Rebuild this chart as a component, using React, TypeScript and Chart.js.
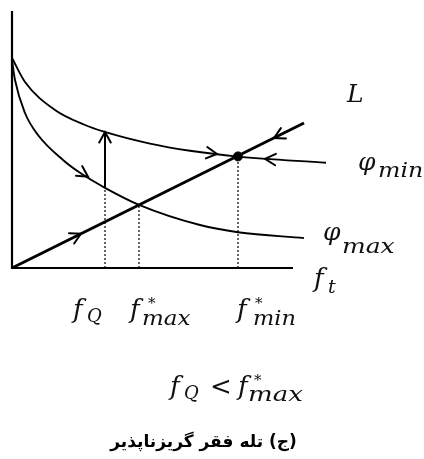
import { useEffect, useRef } from "react";
import { Chart, registerables } from "chart.js";

Chart.register(...registerables);

// Horizontal axis: f_t ; vertical axis: value of the curves
const axisTopV = 257;
const axisEndF = 281;

// φ_min curve (upper)
const phiMinF = [0, 13, 43, 73, 91, 138, 178, 226, 314];
const phiMinV = [210, 186, 158, 143, 136.6, 124.4, 117.2, 111.4, 105.2];

// φ_max curve (lower)
const phiMaxF = [0, 3, 13, 26, 51, 68, 93, 127, 188, 226, 292];
const phiMaxV = [208, 188, 155, 133, 108, 95.2, 80.2, 63.2, 43, 35.8, 29.9];

// Line L through the origin
const lineLF = [0, 292];
const lineLV = [0, 145];

// Marked points on the f_t axis
const fQ = 93;
const fMaxStar = 127;
const fMinStar = 226;
const fQOnPhiMax = 80.2;
const fQOnPhiMin = 136;
const eqMaxV = 63.2;
const eqMinV = 111.6;

// Arrowheads: position and direction (in data units)
const arrowF = [76, 69, 205, 253, 262, 93];
const arrowV = [91.3, 34.3, 114, 109.2, 130, 136];
const arrowDF = [17, 1, 21, -1, -1, 0];
const arrowDV = [-11, 0.4966, -2.6, 0.07, -0.4966, 1];

const BLACK = "#000000";
const MATH = '"DejaVu Serif", "Liberation Serif", serif';

type P = { x: number; y: number };
const pts = (xs: number[], ys: number[]): P[] => xs.map((x, i) => ({ x, y: ys[i] }));

function lineSet(data: P[], width: number, extra: Record<string, unknown> = {}) {
  return {
    data,
    showLine: true,
    borderColor: BLACK,
    borderWidth: width,
    pointRadius: 0,
    fill: false,
    clip: false,
    ...extra,
  };
}

// Draws italic text with a horizontal stretch
function italic(
  ctx: CanvasRenderingContext2D,
  text: string,
  x: number,
  y: number,
  size: number,
  sx = 1
) {
  ctx.save();
  ctx.font = `italic ${size}px ${MATH}`;
  ctx.translate(x, y);
  ctx.scale(sx, 1);
  ctx.fillText(text, 0, 0);
  ctx.restore();
}

type Label = {
  base: string;
  x: number;
  y: number;
  size: number;
  sub?: string;
  subSize?: number;
  subX?: number;
  subY?: number;
  subSx?: number;
  star?: boolean;
  starX?: number;
};

function mathLabel(ctx: CanvasRenderingContext2D, l: Label) {
  italic(ctx, l.base, l.x, l.y, l.size);
  if (l.star) {
    ctx.save();
    ctx.font = `15px ${MATH}`;
    ctx.fillText("*", l.x + (l.starX ?? 17), l.y - 10);
    ctx.restore();
  }
  if (l.sub) {
    italic(ctx, l.sub, l.x + (l.subX ?? 14), l.y + (l.subY ?? 6), l.subSize ?? 18, l.subSx ?? 1);
  }
}

const decor = {
  id: "decor",
  afterDatasetsDraw(chart: Chart) {
    const { ctx } = chart;
    const xs = chart.scales.x;
    const ys = chart.scales.y;
    const X = (v: number) => xs.getPixelForValue(v);
    const Y = (v: number) => ys.getPixelForValue(v);

    // open chevron arrowheads
    ctx.save();
    ctx.strokeStyle = BLACK;
    ctx.lineWidth = 2;
    ctx.lineCap = "round";
    for (let i = 0; i < arrowF.length; i++) {
      const tx = X(arrowF[i]);
      const ty = Y(arrowV[i]);
      const dx = X(arrowF[i] + arrowDF[i]) - tx;
      const dy = Y(arrowV[i] + arrowDV[i]) - ty;
      const a = Math.atan2(dy, dx);
      const len = 12;
      const spread = 0.5;
      ctx.beginPath();
      ctx.moveTo(tx - len * Math.cos(a - spread), ty - len * Math.sin(a - spread));
      ctx.lineTo(tx, ty);
      ctx.lineTo(tx - len * Math.cos(a + spread), ty - len * Math.sin(a + spread));
      ctx.stroke();
    }
    ctx.restore();

    // labels
    ctx.save();
    ctx.fillStyle = "#111111";
    ctx.textBaseline = "alphabetic";
    ctx.textAlign = "left";

    italic(ctx, "L", X(335), Y(166), 25);
    mathLabel(ctx, { base: "φ", x: X(346), y: Y(98), size: 25, sub: "min", subSize: 20, subX: 20, subY: 7, subSx: 1.18 });
    mathLabel(ctx, { base: "φ", x: X(311), y: Y(28), size: 25, sub: "max", subSize: 20, subX: 19, subY: 13, subSx: 1.25 });
    mathLabel(ctx, { base: "f", x: X(302), y: Y(-19), size: 26, sub: "t", subSize: 19, subX: 14, subY: 6 });

    mathLabel(ctx, { base: "f", x: X(fQ - 32), y: Y(-50), size: 26, sub: "Q", subSize: 18, subX: 14, subY: 4 });
    mathLabel(ctx, {
      base: "f", x: X(fMaxStar - 9), y: Y(-50), size: 26,
      sub: "max", subSize: 20, subX: 12, subY: 7, subSx: 1.15, star: true, starX: 18,
    });
    mathLabel(ctx, {
      base: "f", x: X(fMinStar - 1), y: Y(-50), size: 26,
      sub: "min", subSize: 20, subX: 16, subY: 7, subSx: 1.12, star: true, starX: 18,
    });

    // inequality line
    mathLabel(ctx, { base: "f", x: X(158), y: Y(-127), size: 26, sub: "Q", subSize: 18, subX: 14, subY: 4 });
    ctx.font = `26px ${MATH}`;
    ctx.fillText("<", X(198), Y(-127));
    mathLabel(ctx, {
      base: "f", x: X(226), y: Y(-127), size: 26,
      sub: "max", subSize: 20, subX: 10, subY: 6, subSx: 1.3, star: true, starX: 16,
    });

    // caption
    ctx.font = 'bold 17px "DejaVu Sans", "Noto Sans", sans-serif';
    ctx.fillStyle = "#000000";
    ctx.textAlign = "center";
    ctx.direction = "rtl";
    ctx.fillText("(ج) تله فقر گریزناپذیر", X(191.5), Y(-179));
    ctx.restore();
  },
};

export default function App() {
  const ref = useRef<HTMLCanvasElement>(null);

  useEffect(() => {
    document.body.style.margin = "0";
    const canvas = ref.current;
    if (!canvas) return;

    const chart = new Chart(canvas, {
      type: "scatter",
      data: {
        datasets: [
          // axes
          lineSet(
            [
              { x: 0, y: axisTopV },
              { x: 0, y: 0 },
              { x: axisEndF, y: 0 },
            ],
            2.2
          ),
          // curves
          lineSet(pts(phiMinF, phiMinV), 1.9, { cubicInterpolationMode: "monotone" }),
          lineSet(pts(phiMaxF, phiMaxV), 1.9, { cubicInterpolationMode: "monotone" }),
          lineSet(pts(lineLF, lineLV), 3),
          // dotted drop lines
          lineSet([{ x: fQ, y: 0 }, { x: fQ, y: fQOnPhiMax }], 1.2, { borderDash: [2, 2] }),
          lineSet([{ x: fMaxStar, y: 0 }, { x: fMaxStar, y: eqMaxV }], 1.2, { borderDash: [2, 2] }),
          lineSet([{ x: fMinStar, y: 0 }, { x: fMinStar, y: eqMinV }], 1.2, { borderDash: [2, 2] }),
          // jump arrow from φ_max up to φ_min at f_Q
          lineSet([{ x: fQ, y: fQOnPhiMax }, { x: fQ, y: fQOnPhiMin }], 2),
          // stable equilibrium point
          {
            data: [{ x: fMinStar, y: eqMinV }],
            showLine: false,
            pointRadius: 4.5,
            pointBackgroundColor: BLACK,
            pointBorderColor: BLACK,
            clip: false,
          },
        ],
      },
      options: {
        responsive: false,
        animation: false,
        events: [],
        layout: { padding: { left: 12, right: 12, top: 8, bottom: 191 } },
        scales: {
          x: { type: "linear", min: 0, max: 400, display: false },
          y: { type: "linear", min: 0, max: 260, display: false },
        },
        plugins: {
          legend: { display: false },
          tooltip: { enabled: false },
        },
      },
      plugins: [decor],
    });

    return () => chart.destroy();
  }, []);

  return <canvas ref={ref} width={424} height={459} style={{ display: "block" }} />;
}
